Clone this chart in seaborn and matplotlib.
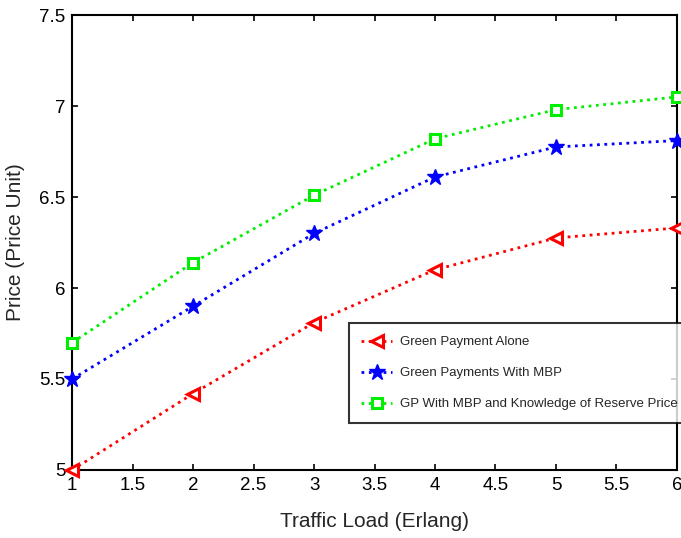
import pandas as pd
import matplotlib
matplotlib.use('Agg')
import matplotlib.pyplot as plt
import seaborn as sns

# Values
traffic_load = [1, 2, 3, 4, 5, 6]
green_payment_alone = [5.00, 5.42, 5.81, 6.10, 6.275, 6.33]
green_payments_mbp = [5.50, 5.90, 6.30, 6.61, 6.775, 6.81]
gp_mbp_reserve = [5.70, 6.14, 6.51, 6.82, 6.98, 7.05]

series_names = ['Green Payment Alone', 'Green Payments With MBP',
                'GP With MBP and Knowledge of Reserve Price']
x_ticks = [1, 1.5, 2, 2.5, 3, 3.5, 4, 4.5, 5, 5.5, 6]
y_ticks = [5, 5.5, 6, 6.5, 7, 7.5]
x_tick_labels = ['1', '1.5', '2', '2.5', '3', '3.5', '4', '4.5', '5', '5.5', '6']
y_tick_labels = ['5', '5.5', '6', '6.5', '7', '7.5']

sns.set_style('ticks')
plt.rcParams['font.family'] = ['Liberation Sans', 'DejaVu Sans']

df = pd.DataFrame({
    'load': traffic_load * 3,
    'price': green_payment_alone + green_payments_mbp + gp_mbp_reserve,
    'series': [series_names[0]] * 6 + [series_names[1]] * 6 + [series_names[2]] * 6,
})

fig = plt.figure(figsize=(6.81, 5.38), dpi=100)
ax = fig.add_axes([0.106, 0.1264, 0.888, 0.8457])

styles = {
    series_names[0]: dict(color='#ff0000', marker='<', mfc='white', ms=8, mew=2.2),
    series_names[1]: dict(color='#0000ff', marker='*', mfc='#0000ff', ms=12, mew=1),
    series_names[2]: dict(color='#00ee00', marker='s', mfc='white', ms=6.5, mew=2.2),
}

for name in series_names:
    st = styles[name]
    sub = df[df['series'] == name]
    sns.lineplot(data=sub, x='load', y='price', ax=ax, label=name,
                 color=st['color'], linestyle=':', linewidth=2,
                 marker=st['marker'], markerfacecolor=st['mfc'],
                 markeredgecolor=st['color'], markersize=st['ms'],
                 markeredgewidth=st['mew'], clip_on=False, zorder=3)

ax.set_xlim(1, 6)
ax.set_ylim(5, 7.5)
ax.set_xticks(x_ticks)
ax.set_xticklabels(x_tick_labels)
ax.set_yticks(y_ticks)
ax.set_yticklabels(y_tick_labels)
ax.tick_params(direction='in', top=True, right=True, length=4, width=1.2,
               labelsize=13.5, colors='black', pad=5)
for sp in ax.spines.values():
    sp.set_visible(True)
    sp.set_linewidth(1.5)
    sp.set_color('black')

ax.set_xlabel('Traffic Load (Erlang)', fontsize=15, labelpad=13)
ax.set_ylabel('Price (Price Unit)', fontsize=15, labelpad=10)

leg = ax.legend(loc='upper left', bbox_to_anchor=(0.457, 0.323), fontsize=9.5,
                frameon=True, fancybox=False, edgecolor='black',
                borderpad=0.98, labelspacing=1.42, handlelength=2.3,
                handletextpad=0.6, borderaxespad=0)
leg.get_frame().set_linewidth(1.5)
leg.set_zorder(5)

fig.savefig('out.png', dpi=100)
